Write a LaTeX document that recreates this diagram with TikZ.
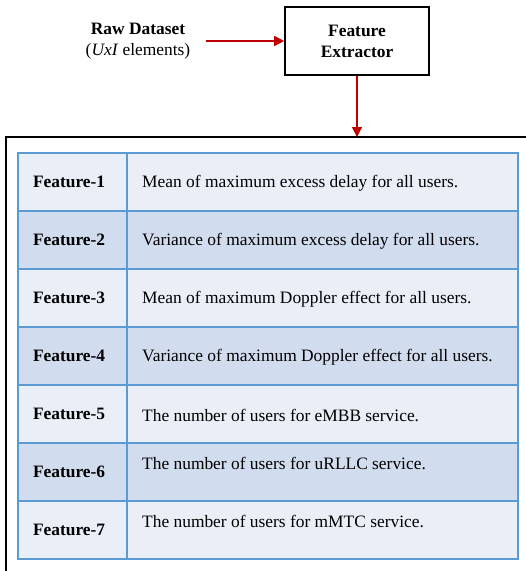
\documentclass[tikz,border=0pt]{standalone}
\usepackage{fontspec}
\setmainfont{Liberation Serif}
\usetikzlibrary{positioning,calc,arrows.meta}
\definecolor{rowlight}{HTML}{E9EEF7}
\definecolor{rowdark}{HTML}{D1DCEE}
\definecolor{gridblue}{HTML}{5B9BD5}
\definecolor{arrowred}{HTML}{C00000}

\begin{document}
\begin{tikzpicture}[x=1pt,y=-1pt,
    font=\fontsize{17.4}{20.5}\selectfont,
    blockbox/.style={draw=black, line width=1.6pt, minimum width=144pt, minimum height=68pt,
        align=center, font=\fontsize{17.4}{21}\selectfont\bfseries},
    flowarrow/.style={draw=arrowred, line width=1.5pt, -{Triangle[length=10pt,width=10pt]}},
    frameline/.style={draw=black, line width=1.6pt},
    namecell/.style={draw=gridblue, line width=1.6pt, anchor=north west, outer sep=0pt,
        minimum width=109pt, minimum height=58pt, inner xsep=15pt, inner ysep=0pt,
        text width=79pt, align=left, font=\fontsize{17.4}{20}\selectfont\bfseries},
    desccell/.style={draw=gridblue, line width=1.6pt, anchor=north west, outer sep=0pt,
        minimum width=391pt, minimum height=58pt, inner sep=0pt},
    desctext/.style={anchor=west, inner sep=0pt}]

    \useasboundingbox (0,0) rectangle (526,571);

    % input and extractor
    \node[blockbox] (extractor) at (357,41) {Feature\\Extractor};
    \node[align=center, inner xsep=16pt] (raw) at (138,41)
        {\textbf{Raw Dataset}\\(\textit{UxI} elements)};
    \draw[flowarrow] (raw.east) -- (extractor.west);

    % outer frame
    \coordinate (framecorner) at (6,137);
    \draw[frameline] (framecorner) rectangle (560,620);
    \draw[flowarrow] (extractor.south) -- (extractor.south |- framecorner);

    % feature table
    \foreach \i/\shade/\dy/\desc in {
        1/rowlight/30/{Mean of maximum excess delay for all users.},
        2/rowdark/30/{Variance of maximum excess delay for all users.},
        3/rowlight/30/{Mean of maximum Doppler effect for all users.},
        4/rowdark/30/{Variance of maximum Doppler effect for all users.},
        5/rowlight/30/{The number of users for eMBB service.},
        6/rowdark/20/{The number of users for uRLLC service.},
        7/rowlight/20/{The number of users for mMTC service.}}{
        \node[namecell, fill=\shade] (name\i) at (18,{153+58*(\i-1)}) {Feature-\i};
        \node[desccell, fill=\shade, right=0pt of name\i] (cell\i) {};
        \node[desctext] (text\i) at ($(cell\i.north west)+(15,\dy)$) {\desc};
    }
\end{tikzpicture}
\end{document}
